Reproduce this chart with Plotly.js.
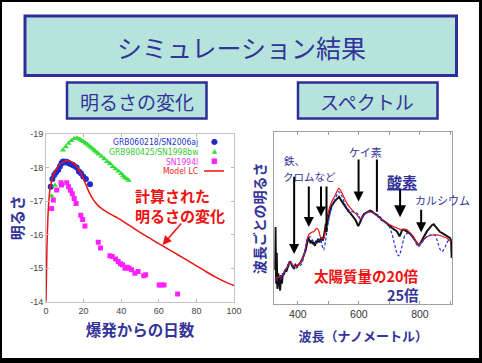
<!DOCTYPE html>
<html><head><meta charset="utf-8">
<script src="https://cdn.plot.ly/plotly-3.0.1.min.js"></script>
<style>html,body{margin:0;padding:0;background:#000;}</style>
</head><body><div id="chart" style="width:482px;height:363px;"></div>
<script>
// ---------- Light curve data (days since explosion, absolute magnitude) ----------
const sn2006ajDays = [2.5, 3.4, 4.4, 5.3, 6.5, 7.4, 8.2, 8.8, 9.5, 10.2, 11, 11.8, 12.5, 13.3, 14.1, 14.9, 16.3, 17.5, 18.6, 19.8, 21.2, 23.4];
const sn2006ajMag  = [-17.43, -17.66, -17.78, -17.85, -17.93, -18.03, -18.12, -18.17, -18.18, -18.15, -18.17, -18.14, -18.12, -18.1, -18.08, -18.05, -18.0, -17.88, -17.83, -17.73, -17.66, -17.5];

const sn1998bwDays = [3, 4.8, 9, 10.5, 12, 13.5, 15, 16.5, 18, 19, 20, 21, 22, 23, 24, 25, 26, 27, 28, 29.5, 31, 32.5, 34, 35.5, 37, 38.5, 40, 41, 42, 43, 44];
const sn1998bwMag  = [-17.15, -17.47, -18.52, -18.62, -18.72, -18.8, -18.86, -18.88, -18.84, -18.8, -18.77, -18.73, -18.69, -18.64, -18.6, -18.55, -18.5, -18.45, -18.4, -18.33, -18.26, -18.18, -18.12, -18.03, -17.96, -17.89, -17.82, -17.75, -17.7, -17.66, -17.62];

const sn1994iDays = [3, 3.9, 5.7, 8, 8.2, 11, 12, 13, 14, 15, 16, 18.5, 19.5, 20.7, 27.8, 29, 34, 35.2, 37, 38.4, 39.6, 40.7, 42, 43.2, 44.2, 45.5, 47.3, 49, 52, 53, 60.2, 61.4, 62.8, 70];
const sn1994iMag  = [-16.78, -17.03, -17.33, -17.55, -17.48, -17.55, -17.43, -17.32, -17.22, -17.08, -16.93, -16.58, -16.45, -16.26, -15.77, -15.6, -15.37, -15.35, -15.27, -15.2, -15.13, -15.1, -15.0, -15.03, -15.0, -14.95, -14.85, -14.9, -14.77, -14.8, -14.5, -14.5, -14.5, -14.23];

const modelDays = [0, 0.5, 1, 1.5, 2, 3, 4, 5, 6, 8, 10, 11, 12, 14, 16, 18, 20, 22, 24, 26, 28, 30, 33, 36, 38, 40, 45, 50, 55, 60, 65, 70, 75, 80, 85, 90, 95, 100];
const modelMag  = [-14, -15.6, -16.5, -17.0, -17.3, -17.6, -17.78, -17.9, -18.0, -18.12, -18.19, -18.2, -18.2, -18.15, -18.05, -17.88, -17.65, -17.38, -17.15, -16.98, -16.85, -16.76, -16.65, -16.56, -16.5, -16.43, -16.25, -16.07, -15.9, -15.73, -15.57, -15.4, -15.24, -15.07, -14.9, -14.74, -14.6, -14.48];

const magTicks = [-19, -18, -17, -16, -15, -14];
const magTickText = ['-19', '-18', '-17', '-16', '-15', '-14'];
const dayTicks = [0, 20, 40, 60, 80, 100];

// ---------- Spectrum data (wavelength nm, relative flux) ----------
const obsWave = [325, 327, 329, 331, 333, 336, 339, 342, 345, 348, 351, 354, 358, 362, 366, 370, 374, 378, 382, 387, 392, 397, 403, 408, 414, 419, 425, 430, 434, 438, 441, 445, 449, 452, 456, 460, 463, 467, 471, 474, 478, 482, 485, 488, 490, 492, 495, 500, 505, 510, 516, 521, 527, 531, 535, 540, 545, 550, 556, 561, 566, 572, 578, 584, 589, 594, 598, 602, 606, 612, 617, 622, 627, 632, 637, 642, 648, 653, 659, 664, 670, 675, 681, 686, 692, 697, 703, 708, 713, 719, 724, 729, 733, 737, 741, 746, 751, 757, 762, 768, 773, 779, 784, 790, 795, 800, 806, 812, 817, 823, 828, 834, 839, 845, 850, 855, 861, 866, 872, 877, 883, 888, 894, 899, 902, 904];
const obsFlux = [20, 45, 12, 30, 9, 18, 14, 8, 17, 12, 18, 17, 20, 19, 21, 23, 25, 24, 22, 21, 23, 22, 23, 24, 26, 28, 31, 35, 39, 37, 36, 37, 35, 36, 34, 37, 36, 38, 36, 37, 39, 37, 39, 42, 45, 47, 46, 51, 54, 57, 59, 60, 61, 62, 62.5, 61, 59.5, 58, 56.5, 55, 54, 53, 51.5, 50.5, 49, 47, 45.5, 47, 49, 51, 52.5, 53, 53.5, 54, 54.5, 54, 53, 52.5, 52, 51, 50.5, 49, 48.5, 48, 47, 46, 45.5, 44.5, 44, 43, 42.5, 41, 39.5, 41, 43, 43.5, 43, 42.5, 42, 41, 40, 38.5, 37, 35.5, 34.5, 35, 37, 39.5, 41, 42.5, 43.5, 45, 46, 46.5, 45.5, 44, 43, 42, 41.5, 41, 40.5, 40, 39, 38.5, 37, 27];

const m20Wave = [325, 331, 342, 350, 358, 366, 372, 378, 385, 392, 400, 408, 414, 422, 430, 436, 441, 447, 452, 458, 463, 468, 474, 480, 485, 490, 496, 502, 507, 515, 523, 529, 534, 540, 545, 553, 561, 570, 578, 586, 594, 600, 605, 612, 620, 629, 637, 648, 659, 670, 686, 703, 719, 735, 746, 757, 768, 779, 787, 795, 803, 812, 820, 828, 838, 845, 855, 866, 877, 888, 895, 901];
const m20Flux = [15, 15.5, 16, 17, 19.5, 22, 23.8, 24, 22.5, 22, 22.5, 24, 25.8, 30, 37.4, 40.5, 41.3, 42, 42.2, 43.5, 44.2, 43, 39.3, 38.3, 38.4, 42, 50, 55, 57.7, 61, 63.5, 66, 67.4, 66.3, 64.5, 61.5, 58.7, 56.5, 54.8, 53.3, 51.9, 50.5, 49.5, 50.5, 52.5, 53.5, 53.8, 53, 51.5, 50, 48, 46.1, 44.8, 43.6, 43.5, 43.5, 41.5, 39.3, 36.5, 34.5, 35.5, 37.4, 38.8, 39.7, 40.2, 40.3, 40.4, 40, 39.3, 38.4, 37.5, 36.4];

const m25Wave = [325, 331, 342, 350, 358, 366, 372, 378, 385, 392, 400, 408, 414, 422, 430, 436, 441, 447, 452, 458, 463, 468, 474, 479, 485, 490, 496, 502, 507, 515, 523, 529, 534, 540, 545, 553, 561, 570, 578, 586, 594, 600, 605, 610, 620, 629, 637, 648, 659, 670, 681, 692, 700, 708, 714, 719, 724, 730, 735, 741, 746, 751, 757, 762, 768, 779, 787, 795, 803, 812, 823, 834, 845, 850, 855, 861, 866, 872, 877, 883, 888, 894, 901, 904];
const m25Flux = [14, 14.1, 14.5, 16.5, 19.5, 22.5, 24.8, 24, 21.5, 20.9, 21.5, 22.5, 23.8, 30, 37.4, 39, 39.3, 37.5, 36.4, 35.5, 35.5, 37, 38.4, 34.5, 31.6, 36, 43.2, 50, 53.8, 58, 61.6, 64, 65.5, 64.5, 62.6, 59, 55.8, 54.5, 53.8, 53.4, 52.9, 51.5, 49.3, 49.8, 52.5, 53.5, 53.8, 53, 51.5, 50, 48.5, 47.1, 45, 41.3, 37, 33.5, 30, 28.1, 29.5, 33.5, 37.5, 40.3, 41.2, 41.3, 40.5, 38.4, 35.5, 33.5, 35, 37.4, 39.5, 40.3, 40.5, 40, 38, 34.5, 32, 30.6, 31.5, 33.5, 35.5, 37.4, 37.8, 37];

const waveTicks = [400, 500, 600, 700, 800, 900];
const waveTickText = ['400', '', '600', '', '800', ''];

// ---------- styles / helpers ----------
const W = 482, H = 363;
const px = v => v / W;
const py = v => 1 - v / H;
const NAVY = '#333399';
const JP = '"Noto Sans CJK JP", "Noto Sans", sans-serif';
const LAT = '"Liberation Sans", Arial, sans-serif';
const NARROW = '"Liberation Sans Narrow", "DejaVu Sans Condensed", "Liberation Sans", sans-serif';

const traces = [
  {x: sn2006ajDays, y: sn2006ajMag, name: 'GRB060218/SN2006aj', type: 'scatter', mode: 'markers',
   marker: {symbol: 'circle', size: 6, color: '#1f2bd0'}, xaxis: 'x', yaxis: 'y'},
  {x: sn1998bwDays, y: sn1998bwMag, name: 'GRB980425/SN1998bw', type: 'scatter', mode: 'markers',
   marker: {symbol: 'triangle-up', size: 5.5, color: '#33dd33'}, xaxis: 'x', yaxis: 'y'},
  {x: sn1994iDays, y: sn1994iMag, name: 'SN1994I', type: 'scatter', mode: 'markers',
   marker: {symbol: 'square', size: 5, color: '#ff22ff'}, xaxis: 'x', yaxis: 'y'},
  {x: modelDays, y: modelMag, name: 'Model LC', type: 'scatter', mode: 'lines',
   line: {color: '#ee1111', width: 1.5, shape: 'spline', smoothing: 0.6}, xaxis: 'x', yaxis: 'y'},
  {x: obsWave, y: obsFlux, name: '観測', type: 'scatter', mode: 'lines',
   line: {color: '#111111', width: 2}, xaxis: 'x2', yaxis: 'y2'},
  {x: m20Wave, y: m20Flux, name: '太陽質量の20倍', type: 'scatter', mode: 'lines',
   line: {color: '#ee1111', width: 1.2, shape: 'spline', smoothing: 0.5}, xaxis: 'x2', yaxis: 'y2'},
  {x: m25Wave, y: m25Flux, name: '25倍', type: 'scatter', mode: 'lines',
   line: {color: '#2233ee', width: 1.2, dash: '3px,2px', shape: 'spline', smoothing: 0.5}, xaxis: 'x2', yaxis: 'y2'}
];

function textAnn(text, x, y, size, color, opts) {
  return Object.assign({text: text, xref: 'paper', yref: 'paper', x: px(x), y: py(y),
    showarrow: false, xanchor: 'center', yanchor: 'middle',
    font: {family: JP, size: size, color: color}}, opts || {});
}
function vArrow(wave, tip, tail, head, size) {
  return {xref: 'x2', yref: 'y2', axref: 'x2', ayref: 'y2', x: wave, y: tip, ax: wave, ay: tail,
    text: '', showarrow: true, arrowhead: head, arrowsize: size || 1, arrowwidth: 2,
    arrowcolor: '#000000', standoff: 0, startstandoff: 0};
}

const annotations = [
  // slide titles
  textAnn('シミュレーション結果', 241, 47, 25, NAVY),
  textAnn('明るさの変化', 137, 101, 19, NAVY),
  textAnn('スペクトル', 367, 101, 19, NAVY),
  // light-curve legend
  textAnn('GRB060218/SN2006aj', 200, 142, 8.5, '#2233cc', {xanchor: 'right', font: {family: NARROW, size: 8.5, color: '#2233cc'}}),
  textAnn('GRB980425/SN1998bw', 200, 151.5, 8.5, '#33cc33', {xanchor: 'right', font: {family: NARROW, size: 8.5, color: '#33cc33'}}),
  textAnn('SN1994I', 200, 161.5, 8.5, '#ee33ee', {xanchor: 'right', font: {family: NARROW, size: 8.5, color: '#ee33ee'}}),
  textAnn('Model LC', 200, 171, 8.5, '#ee2222', {xanchor: 'right', font: {family: NARROW, size: 8.5, color: '#ee2222'}}),
  textAnn('●', 214, 142, 8, '#1f2bd0', {font: {family: '"DejaVu Sans"', size: 8, color: '#1f2bd0'}}),
  textAnn('▲', 214, 151, 6.5, '#33dd33', {font: {family: '"DejaVu Sans"', size: 6.5, color: '#33dd33'}}),
  textAnn('■', 214, 161, 7, '#ff22ff', {font: {family: '"DejaVu Sans"', size: 7, color: '#ff22ff'}}),
  // light-curve callout
  textAnn('<b>計算された<br>明るさの変化</b>', 133, 205.5, 15, '#ee1111', {xanchor: 'left', align: 'left'}),
  {xref: 'x', yref: 'y', x: 62, y: -15.69, ax: 20, ay: -23, text: '', showarrow: true,
   arrowhead: 2, arrowsize: 1.2, arrowwidth: 1.5, arrowcolor: '#ee1111', standoff: 0},
  // spectrum labels
  textAnn('鉄、', 282, 160, 10.5, NAVY, {xanchor: 'left'}),
  textAnn('クロムなど', 281, 176, 10.5, NAVY, {xanchor: 'left'}),
  textAnn('ケイ素', 365, 151.5, 11, NAVY),
  textAnn('<b><u>酸素</u></b>', 402, 182, 15, NAVY),
  textAnn('カルシウム', 413, 200, 11, NAVY, {xanchor: 'left'}),
  textAnn('<b>太陽質量の20倍</b>', 421, 275, 14.5, '#ee1111', {xanchor: 'right'}),
  textAnn('<b>25倍</b>', 421, 294, 14.5, NAVY, {xanchor: 'right'}),
  // spectral line arrows
  vArrow(388, 29.3, 75, 2, 1),
  vArrow(436, 45, 69.4, 2, 1),
  vArrow(476, 51, 69.4, 2, 1),
  vArrow(494, 42, 69.4, 0, 1),
  vArrow(599, 59.7, 85, 2, 1),
  vArrow(659, 53.8, 85, 0, 1),
  vArrow(735, 50.6, 67.4, 2, 1.2),
  vArrow(804, 41.9, 55.8, 2, 1)
];

const shapes = [
  {type: 'rect', xref: 'paper', yref: 'paper', x0: px(2), x1: px(479), y0: py(358), y1: py(2),
   fillcolor: '#ffffff', line: {width: 0}, layer: 'below'},
  {type: 'rect', xref: 'paper', yref: 'paper', x0: px(25), x1: px(456.5), y0: py(75.5), y1: py(16),
   fillcolor: '#b6e4dc', line: {color: '#2e2e99', width: 3}, layer: 'below'},
  {type: 'rect', xref: 'paper', yref: 'paper', x0: px(67), x1: px(206.5), y0: py(118.5), y1: py(82.5),
   fillcolor: '#b6e4dc', line: {color: '#2e2e99', width: 2.5}, layer: 'below'},
  {type: 'rect', xref: 'paper', yref: 'paper', x0: px(298), x1: px(437.5), y0: py(118.5), y1: py(82.5),
   fillcolor: '#b6e4dc', line: {color: '#2e2e99', width: 2.5}, layer: 'below'},
  // legend sample line for the model curve
  {type: 'line', xref: 'paper', yref: 'paper', x0: px(204), x1: px(224), y0: py(171), y1: py(171),
   line: {color: '#ee1111', width: 1.5}}
];

const layout = {
  width: W, height: H,
  margin: {l: 0, r: 0, t: 0, b: 0},
  paper_bgcolor: '#000000',
  plot_bgcolor: '#ffffff',
  showlegend: false,
  xaxis: {domain: [px(46), px(234)], range: [0, 100], tickvals: dayTicks, ticks: 'inside', ticklen: 3,
    tickcolor: '#bbbbbb', showline: true, linecolor: '#c4c4c4', linewidth: 1, mirror: 'ticks',
    showgrid: false, zeroline: false, automargin: false,
    tickfont: {family: LAT, size: 9, color: '#444444'},
    title: {text: '爆発からの日数', standoff: 10, font: {family: JP, size: 15.5, color: NAVY, weight: 'bold'}}},
  yaxis: {domain: [py(301.7), py(134)], range: [-14, -19], tickvals: magTicks, ticktext: magTickText,
    ticks: 'inside', ticklen: 3, tickcolor: '#bbbbbb', showline: true, linecolor: '#c4c4c4', linewidth: 1,
    mirror: 'ticks', showgrid: false, zeroline: false, automargin: false,
    tickfont: {family: LAT, size: 9, color: '#444444'},
    title: {text: '明るさ', standoff: 2, font: {family: JP, size: 15, color: NAVY, weight: 'bold'}}},
  xaxis2: {domain: [px(274.3), px(452.3)], range: [323, 906], tickvals: waveTicks, ticktext: waveTickText,
    ticks: 'inside', ticklen: 3, tickcolor: '#999999', showline: true, linecolor: '#a0a0a0', linewidth: 1,
    mirror: 'ticks', showgrid: false, zeroline: false, automargin: false, anchor: 'y2',
    tickfont: {family: LAT, size: 10.5, color: '#333333'},
    title: {text: '波長（ナノメートル）', standoff: 12, font: {family: JP, size: 13, color: NAVY, weight: 'bold'}}},
  yaxis2: {domain: [py(304.3), py(132.3)], range: [0, 100], showticklabels: false, ticks: '',
    showline: true, linecolor: '#a0a0a0', linewidth: 1, mirror: true, showgrid: false, zeroline: false,
    automargin: false, anchor: 'x2',
    title: {text: '波長ごとの明るさ', standoff: 4, font: {family: JP, size: 14, color: NAVY, weight: 'bold'}}},
  annotations: annotations,
  shapes: shapes
};

Plotly.newPlot('chart', traces, layout, {staticPlot: true, displayModeBar: false});
</script></body></html>
